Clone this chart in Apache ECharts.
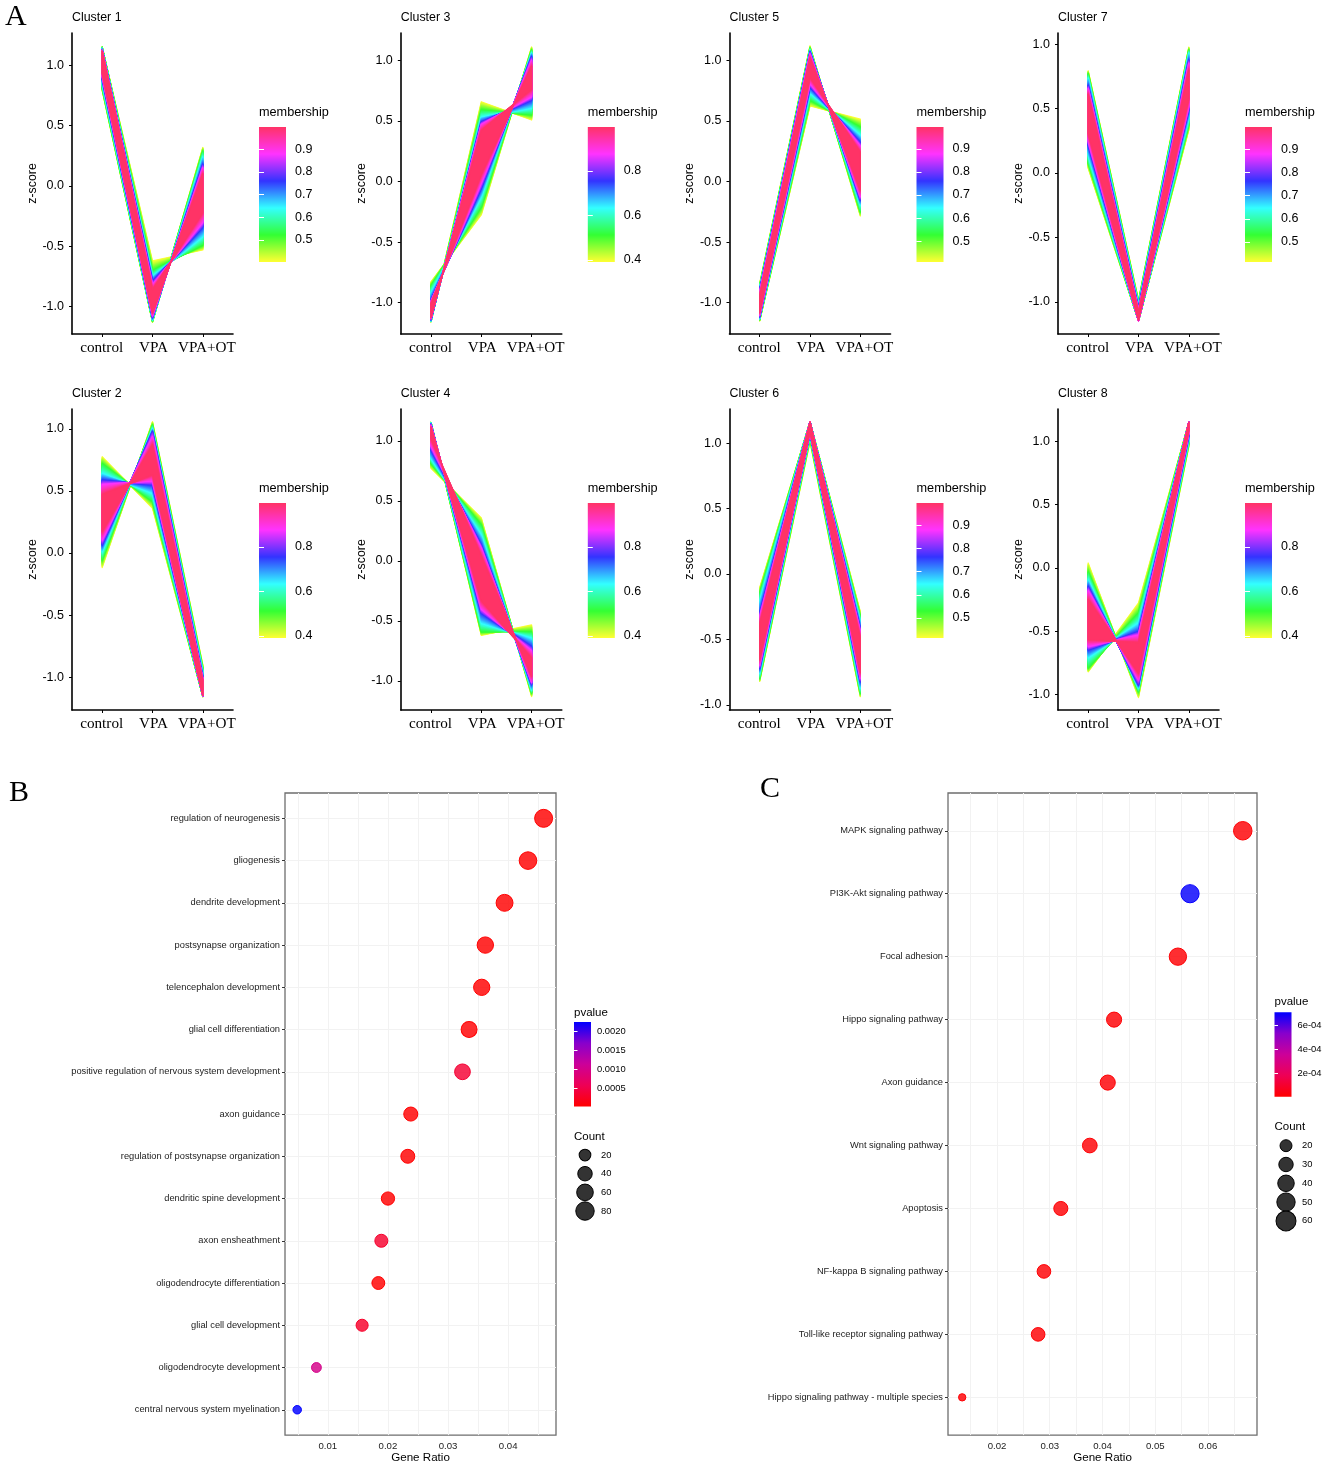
<!DOCTYPE html>
<html><head><meta charset="utf-8">
<style>html,body{margin:0;padding:0;background:#fff}#c{width:1325px;height:1465px}</style>
<script src="https://cdn.jsdelivr.net/npm/echarts@6/dist/echarts.min.js"></script>
</head><body><div id="c"></div>
<script>
// ---------- data ----------
const conditions = ['control', 'VPA', 'VPA+OT'];
// each edge: one row per membership contour (yellow, green, cyan, blue, magenta, core); columns = conditions
const cluster1A = [[1.15,-.62,-.53],[1.15,-.70,-.49],[1.14,-.75,-.42],[1.13,-.79,-.34],[1.125,-.82,-.30],[1.115,-.86,-.22]];
const cluster1B = [[.79,-1.13,.32],[.81,-1.12,.29],[.85,-1.11,.24],[.89,-1.09,.18],[.91,-1.075,.15],[.94,-1.05,.10]];
const cluster2A = [[.775,.36,-1.157],[.72,.413,-1.155],[.64,.48,-1.15],[.587,.547,-1.15],[.55,.58,-1.15],[.47,.63,-1.145]];
const cluster2B = [[-.118,1.057,-.9],[-.056,1.03,-.93],[.01,1.0,-.956],[.064,.977,-1.0],[.105,.935,-1.01],[.175,.87,-1.03]];
const cluster3A = [[-1.157,.658,.507],[-1.155,.59,.55],[-1.15,.53,.605],[-1.14,.49,.67],[-1.13,.47,.70],[-1.12,.42,.76]];
const cluster3B = [[-.827,-.276,1.11],[-.86,-.21,1.085],[-.92,-.125,1.06],[-.978,-.055,1.03],[-.99,-.01,1.0],[-1.01,.06,.95]];
const cluster4A = [[1.155,-.62,-.533],[1.155,-.59,-.59],[1.15,-.52,-.644],[1.14,-.436,-.714],[1.13,-.40,-.75],[1.115,-.33,-.81]];
const cluster4B = [[.772,.36,-1.13],[.814,.3,-1.10],[.856,.217,-1.075],[.925,.133,-1.03],[.96,.105,-1.01],[1.02,.04,-.96]];
const cluster5A = [[-.84,1.118,-.285],[-.86,1.10,-.25],[-.88,1.085,-.194],[-.895,1.07,-.153],[-.915,1.05,-.125],[-.945,1.02,-.07]];
const cluster5B = [[-1.15,.623,.514],[-1.14,.67,.45],[-1.13,.73,.38],[-1.115,.78,.32],[-1.10,.81,.29],[-1.08,.86,.24]];
const cluster6A = [[-.104,1.163,-.288],[-.147,1.163,-.326],[-.21,1.163,-.364],[-.3,1.163,-.415],[-.33,1.163,-.44],[-.385,1.16,-.49]];
const cluster6B = [[-.82,1.01,-.937],[-.797,1.04,-.91],[-.757,1.06,-.87],[-.72,1.075,-.822],[-.695,1.08,-.795],[-.65,1.09,-.75]];
const cluster7A = [[.794,-.986,.978],[.77,-1.005,.955],[.735,-1.025,.93],[.68,-1.05,.877],[.655,-1.065,.85],[.61,-1.085,.80]];
const cluster7B = [[.037,-1.15,.334],[.077,-1.15,.373],[.14,-1.15,.427],[.217,-1.15,.49],[.25,-1.15,.52],[.31,-1.14,.58]];
const cluster8A = [[.04,-1.024,.958],[-.03,-.977,.985],[-.095,-.95,1.01],[-.147,-.924,1.05],[-.18,-.885,1.065],[-.25,-.83,1.09]];
const cluster8B = [[-.82,-.276,1.153],[-.79,-.355,1.153],[-.71,-.434,1.153],[-.648,-.503,1.153],[-.62,-.53,1.153],[-.565,-.59,1.15]];
const zTicks = [-1, -0.5, 0, 0.5, 1];
const membershipTicksFine = [0.5, 0.6, 0.7, 0.8, 0.9];
const membershipTicksCoarse = [0.4, 0.6, 0.8];

const bpTerms = ['regulation of neurogenesis','gliogenesis','dendrite development','postsynapse organization','telencephalon development','glial cell differentiation','positive regulation of nervous system development','axon guidance','regulation of postsynapse organization','dendritic spine development','axon ensheathment','oligodendrocyte differentiation','glial cell development','oligodendrocyte development','central nervous system myelination'];
const bpRatio = [.0459,.0433,.0394,.0362,.0356,.0335,.0324,.0238,.0233,.0200,.0189,.0184,.0157,.0081,.0049];
const bpCount = [87,82,74,68,67,63,61,45,44,38,36,35,29,15,9];
const bpP = [.00001,.00001,.00002,.00002,.00002,.00004,.00036,.00001,.00002,.00002,.00032,.00003,.00030,.00100,.00224];
const bpRatioTicks = [.01,.02,.03,.04];
const bpRatioGrid = [.005,.01,.015,.02,.025,.03,.035,.04,.045];
const bpPTicks = [.002,.0015,.001,.0005];
const bpPLabels = ['0.0020','0.0015','0.0010','0.0005'];
const bpLegendCounts = [20,40,60,80];

const keggTerms = ['MAPK signaling pathway','PI3K-Akt signaling pathway','Focal adhesion','Hippo signaling pathway','Axon guidance','Wnt signaling pathway','Apoptosis','NF-kappa B signaling pathway','Toll-like receptor signaling pathway','Hippo signaling pathway - multiple species'];
const keggRatio = [.0666,.0566,.0543,.0422,.0410,.0376,.0321,.0289,.0278,.0134];
const keggCount = [57,55,50,38,38,36,33,31,31,9];
const keggP = [.00001,.00070,.00001,.00001,.00001,.00001,.00001,.00001,.00001,.00001];
const keggRatioTicks = [.02,.03,.04,.05,.06];
const keggRatioGrid = [.015,.02,.025,.03,.035,.04,.045,.05,.055,.06,.065];
const keggPTicks = [.0006,.0004,.0002];
const keggPLabels = ['6e-04','4e-04','2e-04'];
const keggLegendCounts = [20,30,40,50,60];

// ---------- styles ----------
const SANS = '"Liberation Sans", Arial, sans-serif', SERIF = '"Liberation Serif", serif';
const fuzzyRamp = ['#FFFF33','#33FF33','#33FFFF','#3333FF','#FF33FF','#FF3366'];
const pRamp = ['#FF0000','#EE0055','#CC0099','#8800CC','#0000FF'];
function hex(c){return [1,3,5].map(i=>parseInt(c.substr(i,2),16));}
function rgb(a,al){return `rgba(${a.map(Math.round).join(',')},${al==null?1:al})`;}
function mix(c1,c2,t){const a=hex(c1),b=hex(c2);return a.map((v,i)=>v+(b[i]-v)*t);}
function rampAt(ramp,t){t=Math.max(0,Math.min(1,t));const s=t*(ramp.length-1),i=Math.min(ramp.length-2,Math.floor(s));return mix(ramp[i],ramp[i+1],s-i);}
function stops(ramp){return ramp.map((c,i)=>({offset:i/(ramp.length-1),color:c}));}

const grid=[],xAxis=[],yAxis=[],series=[],title=[];
function text(t,x,y,size,font,color){title.push({text:t,left:x,top:y,padding:0,textStyle:{fontSize:size,fontFamily:font||SANS,fontWeight:'normal',color:color||'#000'}});}

// ---------- cluster panels ----------
const panels=[
 {n:1,a:cluster1A,b:cluster1B,x:72,  y:33, yr:[-1.226,1.2676],bar:[.4026,.9987],t:membershipTicksFine},
 {n:3,a:cluster3A,b:cluster3B,x:400.8,y:33, yr:[-1.258,1.225],bar:[.391,.997],t:membershipTicksCoarse},
 {n:5,a:cluster5A,b:cluster5B,x:729.5,y:33, yr:[-1.258,1.225],bar:[.409,.9957],t:membershipTicksFine},
 {n:7,a:cluster7A,b:cluster7B,x:1058,y:33, yr:[-1.25,1.087],bar:[.414,.995],t:membershipTicksFine},
 {n:2,a:cluster2A,b:cluster2B,x:72,  y:409,yr:[-1.264,1.159],bar:[.391,.997],t:membershipTicksCoarse},
 {n:4,a:cluster4A,b:cluster4B,x:400.8,y:409,yr:[-1.242,1.267],bar:[.391,.997],t:membershipTicksCoarse},
 {n:6,a:cluster6A,b:cluster6B,x:729.5,y:409,yr:[-1.038,1.26],bar:[.413,.997],t:membershipTicksFine},
 {n:8,a:cluster8A,b:cluster8B,x:1058,y:409,yr:[-1.122,1.256],bar:[.391,.997],t:membershipTicksCoarse}
];
function bandRender(params,api){
  const kids=[]; const STEPS=10;
  const lvl=api.value(0);
  const read=o=>[0,1,2].map(i=>api.coord([i,api.value(o+i)]));
  const A0=read(1),B0=read(4),A1=read(7),B1=read(10);
  const last=lvl===fuzzyRamp.length-2;
  for(let s=0;s<(last?STEPS+1:STEPS);s++){
    const t=s/STEPS;
    const L=(p,q)=>p.map((c,i)=>[c[0]+(q[i][0]-c[0])*t,c[1]+(q[i][1]-c[1])*t]);
    const a=L(A0,A1),b=L(B0,B1);
    const col=rgb(mix(fuzzyRamp[lvl],fuzzyRamp[lvl+1],t));
    kids.push({type:'polygon',shape:{points:a.concat(b.slice().reverse())},style:{fill:col,stroke:col,lineWidth:1.2,lineJoin:'round'},silent:true});
  }
  return {type:'group',children:kids};
}
function colorBar(x,y,w,h,range,ticks,fmt,ramp,tl){
  const g=grid.length; grid.push({left:x,top:y,width:w,height:h});
  xAxis.push({type:'value',gridIndex:g,min:0,max:1,show:false});
  const yi=yAxis.length;
  yAxis.push({type:'value',gridIndex:g,min:range[0],max:range[1],position:'right',z:10,splitLine:{show:false},axisLine:{show:false},
    axisTick:{inside:true,length:tl,lineStyle:{color:'#fff',width:1},customValues:ticks},
    axisLabel:{customValues:ticks,margin:fmt.m,formatter:fmt.f,fontSize:fmt.s,fontFamily:SANS,color:'#000',padding:fmt.p||0}});
  yAxis.push({type:'value',gridIndex:g,min:range[0],max:range[1],position:'left',z:10,splitLine:{show:false},axisLine:{show:false},
    axisTick:{inside:true,length:tl,lineStyle:{color:'#fff',width:1},customValues:ticks},axisLabel:{show:false}});
  series.push({type:'custom',xAxisIndex:xAxis.length-1,yAxisIndex:yi,silent:true,clip:false,data:[[range[0],range[1]]],encode:{y:[0,1]},
    renderItem:(p,api)=>{const a=api.coord([0,api.value(1)]),b=api.coord([1,api.value(0)]);
      return {type:'rect',shape:{x:a[0],y:a[1],width:b[0]-a[0],height:b[1]-a[1]},style:{fill:new echarts.graphic.LinearGradient(0,1,0,0,stops(ramp))}};}});
}
panels.forEach(p=>{
  const g=grid.length; grid.push({left:p.x,top:p.y,width:161,height:301});
  xAxis.push({type:'value',gridIndex:g,min:-0.6,max:2.6,splitLine:{show:false},
    axisLine:{onZero:false,lineStyle:{color:'#000',width:1.6}},
    axisTick:{length:3,lineStyle:{color:'#000',width:1},customValues:[0,1,2]},
    axisLabel:{customValues:[0,1,2],margin:7,hideOverlap:false,
      formatter:v=>v===2?'{r|'+conditions[v]+'}':v===0?'{l|'+conditions[v]+'}':'{m|'+conditions[v]+'}',
      fontFamily:SERIF,fontSize:15.2,color:'#000',
      rich:{l:{fontFamily:SERIF,fontSize:15.2,padding:[0,1,0,0]},m:{fontFamily:SERIF,fontSize:15.2,padding:[0,0,0,2]},r:{fontFamily:SERIF,fontSize:15.2,padding:[0,0,0,8]}}}});
  yAxis.push({type:'value',gridIndex:g,min:p.yr[0],max:p.yr[1],splitLine:{show:false},
    name:'z-score',nameLocation:'middle',nameGap:33,nameRotate:90,nameTextStyle:{fontFamily:SANS,fontSize:12.4,color:'#000'},
    axisLine:{onZero:false,lineStyle:{color:'#000',width:1.6}},
    axisTick:{length:3,lineStyle:{color:'#000',width:1},customValues:zTicks},
    axisLabel:{customValues:zTicks,margin:8,formatter:v=>v.toFixed(1),fontFamily:SANS,fontSize:12.5,color:'#000',padding:[2,0,0,0]}});
  const rows=[];
  for(let k=0;k<5;k++) rows.push([k].concat(p.a[k],p.b[k],p.a[k+1],p.b[k+1]));
  series.push({type:'custom',name:'Cluster '+p.n,xAxisIndex:xAxis.length-1,yAxisIndex:yAxis.length-1,silent:true,clip:false,data:rows,renderItem:bandRender});
  text('Cluster '+p.n,p.x,p.y-22+1,12.4);
  text('membership',p.x+187,p.y+73,12.7);
  colorBar(p.x+187,p.y+94,27,135,p.bar,p.t,{f:v=>v.toFixed(1),m:9,s:12.5,p:[2,0,0,0]},fuzzyRamp,5);
});

// ---------- dot plots ----------
function dotPlot(o){
  const g=grid.length; grid.push({left:o.x,top:o.y,width:o.w,height:o.h,show:true,borderColor:'#6e6e6e',borderWidth:1.3,backgroundColor:'#fff'});
  const n=o.terms.length, idx=o.terms.map((_,i)=>i);
  xAxis.push({type:'value',gridIndex:g,min:o.xr[0],max:o.xr[1],
    name:'Gene Ratio',nameLocation:'middle',nameGap:14,nameTextStyle:{fontFamily:SANS,fontSize:11.6,color:'#000'},
    splitLine:{show:true,lineStyle:{color:'#F2F2F2',width:1}},axisLine:{show:false,onZero:false},
    axisTick:{show:false,customValues:o.grid},
    axisLabel:{customValues:o.ticks,margin:6,formatter:v=>v.toFixed(2),fontFamily:SANS,fontSize:9.6,color:'#222'}});
  yAxis.push({type:'value',gridIndex:g,min:-0.6,max:n-1+0.6,inverse:true,
    splitLine:{show:true,lineStyle:{color:'#F2F2F2',width:1}},axisLine:{show:false,onZero:false},
    axisTick:{length:3,lineStyle:{color:'#333',width:1},customValues:idx},
    axisLabel:{customValues:idx,margin:5,formatter:v=>o.terms[v],fontFamily:SANS,fontSize:9.3,color:'#222',padding:[1,0,0,0]}});
  const data=idx.map(i=>{const c=rampAt(pRamp,(o.p[i]-o.pr[0])/(o.pr[1]-o.pr[0]));
    return {value:[o.ratio[i],i,o.count[i],o.p[i]],itemStyle:{color:rgb(c,.82),borderColor:rgb(c),borderWidth:1,opacity:1}};});
  series.push({type:'scatter',xAxisIndex:xAxis.length-1,yAxisIndex:yAxis.length-1,silent:true,clip:false,symbolSize:v=>o.size(v[2]),data});
  text('pvalue',o.pvX,o.pvY,11.5);
  colorBar(o.pvX,o.barY,17,o.barH,o.pr,o.pTicks,{f:v=>o.pLabels[o.pTicks.indexOf(v)],m:6,s:9.4},pRamp,3.5);
  text('Count',o.pvX,o.cY,11.5);
  const lg=grid.length, cn=o.legend.length, band=o.lgStep;
  grid.push({left:o.lgX,top:o.lgY,width:20,height:band*cn});
  xAxis.push({type:'value',gridIndex:lg,min:0,max:2,show:false});
  yAxis.push({type:'category',gridIndex:lg,inverse:true,position:'right',data:o.legend.map(String),splitLine:{show:false},axisLine:{show:false},axisTick:{show:false},
    axisLabel:{margin:6,fontFamily:SANS,fontSize:9.4,color:'#000'}});
  series.push({type:'scatter',xAxisIndex:xAxis.length-1,yAxisIndex:yAxis.length-1,silent:true,clip:false,
    data:o.legend.map((c,i)=>({value:[1,String(c),c]})),symbolSize:v=>o.size(v[2])+1,itemStyle:{color:'rgba(40,40,40,.95)',borderColor:'#000',borderWidth:1,opacity:1}});
}
dotPlot({x:285,y:793,w:271,h:642.5,terms:bpTerms,ratio:bpRatio,count:bpCount,p:bpP,xr:[.00287,.04796],ticks:bpRatioTicks,grid:bpRatioGrid,
  pr:[.00003,.00224],pTicks:bpPTicks,pLabels:bpPLabels,legend:bpLegendCounts,size:c=>4+1.5*Math.sqrt(c),
  pvX:574,pvY:1006.5,barY:1022,barH:84.5,cY:1130.5,lgX:575,lgY:1145.7,lgStep:18.67});
dotPlot({x:948,y:793,w:309,h:642.5,terms:keggTerms,ratio:keggRatio,count:keggCount,p:keggP,xr:[.01071,.0693],ticks:keggRatioTicks,grid:keggRatioGrid,
  pr:[.0000025,.000708],pTicks:keggPTicks,pLabels:keggPLabels,legend:keggLegendCounts,size:c=>2.45*Math.sqrt(c),
  pvX:1274.5,pvY:996,barY:1012.3,barH:84.4,cY:1120.5,lgX:1276,lgY:1136.3,lgStep:18.8});

text('A',5,2,30,SERIF); text('B',9,778,30,SERIF); text('C',760,774,30,SERIF);

const chart=echarts.init(document.getElementById('c'),null,{renderer:'canvas'});
chart.setOption({animation:false,backgroundColor:'#fff',title,grid,xAxis,yAxis,series});
</script></body></html>
